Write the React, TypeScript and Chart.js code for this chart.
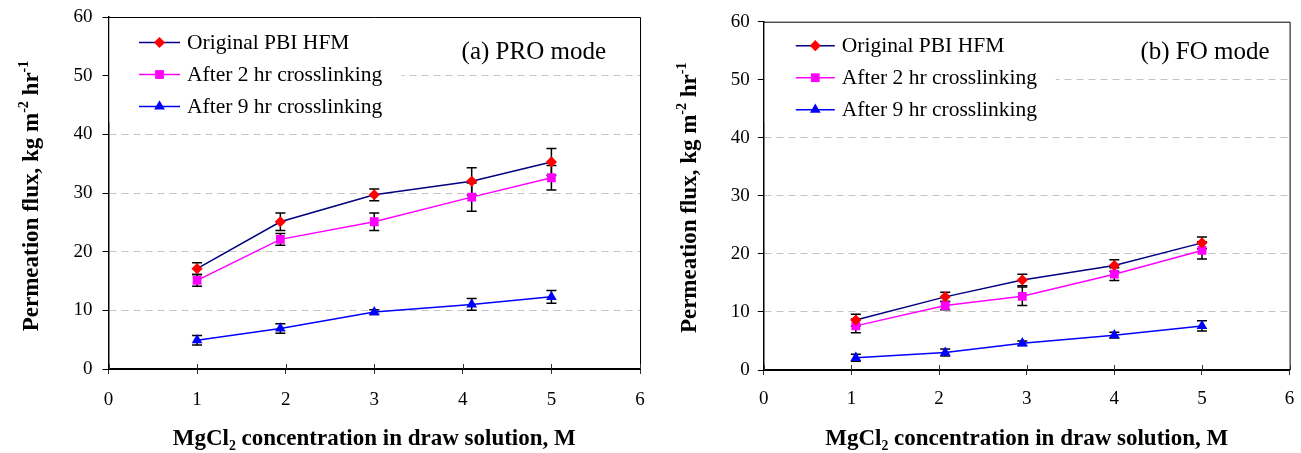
import React, { useEffect, useRef } from 'react';
import { Chart, registerables } from 'chart.js';

Chart.register(...registerables);

const FONT = "'Liberation Serif', 'Times New Roman', Times, serif";

// ---- shared series meta ----
const seriesLabels = ['Original PBI HFM', 'After 2 hr crosslinking', 'After 9 hr crosslinking'];
const lineColors = ['#000080', '#FF00FF', '#0000FF'];
const markerColors = ['#FF0000', '#FF00FF', '#0000FF'];
const markerStyles = ['rectRot', 'rect', 'triangle'];

const xTicks = [0, 1, 2, 3, 4, 5, 6];
const yTicks = [0, 10, 20, 30, 40, 50, 60];

const xTitle = 'MgCl\u2082 concentration in draw solution, M';
// y title pieces: [text, isSuperscript]
const yTitleParts: [string, boolean][] = [
  ['Permeation flux, kg m', false],
  ['-2', true],
  [' hr', false],
  ['-1', true],
];

// ---- (a) PRO mode ----
const proConc = [1, 1.94, 3, 4.1, 5];
const proOriginal = [17.1, 25.1, 29.7, 32.0, 35.3];
const proOriginalErr = [1.0, 1.5, 1.0, 2.3, 2.3];
const pro2hr = [15.1, 22.1, 25.1, 29.3, 32.6];
const pro2hrErr = [1.0, 1.0, 1.5, 2.4, 2.1];
const pro9hr = [4.9, 6.9, 9.7, 11.0, 12.3];
const pro9hrErr = [0.8, 0.8, 0.4, 1.0, 1.1];

// ---- (b) FO mode ----
const foConc = [1.05, 2.07, 2.95, 4.0, 5.0];
const foOriginal = [8.6, 12.6, 15.5, 18.0, 21.9];
const foOriginalErr = [1.0, 0.8, 1.0, 1.0, 1.0];
const fo2hr = [7.6, 11.1, 12.7, 16.5, 20.6];
const fo2hrErr = [1.2, 0.7, 1.6, 1.1, 1.5];
const fo9hr = [2.1, 3.0, 4.6, 6.0, 7.6];
const fo9hrErr = [0.6, 0.6, 0.4, 0.5, 0.9];

function drawMarker(ctx: CanvasRenderingContext2D, style: string, x: number, y: number, r: number) {
  ctx.beginPath();
  if (style === 'rectRot') {
    ctx.moveTo(x - r, y);
    ctx.lineTo(x, y - r);
    ctx.lineTo(x + r, y);
    ctx.lineTo(x, y + r);
  } else if (style === 'rect') {
    const s = Math.SQRT1_2 * r;
    ctx.rect(x - s, y - s, 2 * s, 2 * s);
  } else {
    let rad = 0;
    ctx.moveTo(x + Math.sin(rad) * r, y - Math.cos(rad) * r);
    rad += (2 * Math.PI) / 3;
    ctx.lineTo(x + Math.sin(rad) * r, y - Math.cos(rad) * r);
    rad += (2 * Math.PI) / 3;
    ctx.lineTo(x + Math.sin(rad) * r, y - Math.cos(rad) * r);
  }
  ctx.closePath();
  ctx.fill();
}

const errorBarPlugin = {
  id: 'errorBars',
  beforeDatasetsDraw(chart: any) {
    const { ctx } = chart;
    const xs = chart.scales.x;
    const ys = chart.scales.y;
    ctx.save();
    ctx.strokeStyle = '#000';
    ctx.lineWidth = 1.5;
    chart.data.datasets.forEach((ds: any) => {
      ds.data.forEach((p: any, i: number) => {
        const e = ds.errors[i];
        const px = xs.getPixelForValue(p.x);
        const yt = ys.getPixelForValue(p.y + e);
        const yb = ys.getPixelForValue(p.y - e);
        ctx.beginPath();
        ctx.moveTo(px, yt);
        ctx.lineTo(px, yb);
        ctx.moveTo(px - 5, yt);
        ctx.lineTo(px + 5, yt);
        ctx.moveTo(px - 5, yb);
        ctx.lineTo(px + 5, yb);
        ctx.stroke();
      });
    });
    ctx.restore();
  },
};

const boxLegendPlugin = {
  id: 'boxLegend',
  beforeDatasetsDraw(chart: any, _args: any, opts: any) {
    const { ctx, chartArea } = chart;
    ctx.save();
    // white legend background
    ctx.fillStyle = '#fff';
    ctx.fillRect(chartArea.left + 1, chartArea.top + 1, opts.boxWidth, opts.boxHeight);
    const x0 = chartArea.left + opts.lineStart;
    const x1 = x0 + opts.lineLength;
    ctx.font = `21.5px ${FONT}`;
    ctx.textBaseline = 'middle';
    ctx.textAlign = 'left';
    chart.data.datasets.forEach((ds: any, i: number) => {
      const y = chartArea.top + opts.rowStart + i * opts.rowGap;
      ctx.strokeStyle = ds.borderColor;
      ctx.lineWidth = 1.5;
      ctx.beginPath();
      ctx.moveTo(x0, y);
      ctx.lineTo(x1, y);
      ctx.stroke();
      ctx.fillStyle = ds.pointBackgroundColor;
      drawMarker(ctx, ds.pointStyle, (x0 + x1) / 2, y, ds.pointRadius);
      ctx.fillStyle = '#000';
      ctx.fillText(ds.label, x1 + 7, y + 1);
    });
    // panel annotation
    ctx.font = `25px ${FONT}`;
    ctx.textAlign = 'right';
    ctx.fillStyle = '#000';
    ctx.fillText(opts.note, chartArea.right - opts.noteRight, chartArea.top + opts.noteTop);
    ctx.restore();
  },
  afterDraw(chart: any, _args: any, opts: any) {
    const { ctx, chartArea } = chart;
    ctx.save();
    // top and right frame
    ctx.strokeStyle = '#000';
    ctx.lineWidth = 1;
    ctx.beginPath();
    ctx.moveTo(chartArea.left, chartArea.top + 0.5);
    ctx.lineTo(chartArea.right + 0.5, chartArea.top + 0.5);
    ctx.lineTo(chartArea.right + 0.5, chartArea.bottom);
    ctx.stroke();
    // inward halves of the crossing x tick marks
    ctx.strokeStyle = '#333';
    ctx.beginPath();
    chart.scales.x.ticks.forEach((t: any) => {
      const px = Math.round(chart.scales.x.getPixelForValue(t.value)) + 0.5;
      ctx.moveTo(px, chartArea.bottom);
      ctx.lineTo(px, chartArea.bottom - 5);
    });
    ctx.stroke();
    // y axis title with superscripts
    const big = `bold 23px ${FONT}`;
    const small = `bold 14px ${FONT}`;
    let total = 0;
    yTitleParts.forEach(([t, sup]) => {
      ctx.font = sup ? small : big;
      total += ctx.measureText(t).width;
    });
    ctx.translate(opts.yTitleX, (chartArea.top + chartArea.bottom) / 2 + opts.yTitleShift);
    ctx.rotate(-Math.PI / 2);
    ctx.fillStyle = '#000';
    ctx.textAlign = 'left';
    ctx.textBaseline = 'alphabetic';
    let cx = -total / 2;
    yTitleParts.forEach(([t, sup]) => {
      ctx.font = sup ? small : big;
      ctx.fillText(t, cx, sup ? 8 - 10 : 8);
      cx += ctx.measureText(t).width;
    });
    ctx.restore();
  },
};

type Panel = {
  conc: number[];
  values: number[][];
  errors: number[][];
  note: string;
  width: number;
  area: { left: number; top: number; right: number; bottom: number };
  yTickPad: number;
  xTickPad: number;
  legend: any;
};

function ChartPanel({ p }: { p: Panel }) {
  const ref = useRef<HTMLCanvasElement | null>(null);
  useEffect(() => {
    if (!ref.current) return;
    const H = 453;
    const datasets = seriesLabels.map((label, s) => ({
      label,
      data: p.conc.map((x, i) => ({ x, y: p.values[s][i] })),
      errors: p.errors[s],
      borderColor: lineColors[s],
      backgroundColor: markerColors[s],
      pointBackgroundColor: markerColors[s],
      pointBorderColor: markerColors[s],
      pointBorderWidth: 0,
      pointStyle: markerStyles[s],
      pointRadius: s === 0 ? 5.6 : 6.2,
      borderWidth: 1.5,
      fill: false,
      tension: 0,
    }));
    const chart = new Chart(ref.current, {
      type: 'line',
      data: { datasets: datasets as any },
      options: {
        animation: false,
        responsive: false,
        maintainAspectRatio: false,
        devicePixelRatio: 1,
        layout: {
          padding: { left: 0, top: p.area.top, right: p.width - p.area.right, bottom: 0 },
        },
        plugins: {
          legend: { display: false },
          tooltip: { enabled: false },
          boxLegend: { ...p.legend, note: p.note },
        } as any,
        scales: {
          x: {
            type: 'linear',
            min: xTicks[0],
            max: xTicks[xTicks.length - 1],
            afterBuildTicks: (sc: any) => {
              sc.ticks = xTicks.map((v) => ({ value: v }));
            },
            afterFit: (sc: any) => {
              sc.height = H - p.area.bottom;
              sc.paddingLeft = 0;
              sc.paddingRight = 0;
            },
            ticks: {
              stepSize: 1,
              maxRotation: 0,
              autoSkip: false,
              padding: p.xTickPad,
              color: '#000',
              font: { family: FONT, size: 19 },
            },
            grid: {
              drawOnChartArea: false,
              drawTicks: true,
              tickLength: 5,
              tickColor: '#333',
              tickWidth: 1,
            },
            border: { display: true, color: '#000', width: 2 },
            title: {
              display: true,
              text: xTitle,
              color: '#000',
              font: { family: FONT, size: 23, weight: 'bold' },
              padding: { top: 0, bottom: 0 },
            },
          },
          y: {
            type: 'linear',
            min: yTicks[0],
            max: yTicks[yTicks.length - 1],
            afterBuildTicks: (sc: any) => {
              sc.ticks = yTicks.map((v) => ({ value: v }));
            },
            afterFit: (sc: any) => {
              sc.width = p.area.left;
              sc.paddingTop = 0;
              sc.paddingBottom = 0;
            },
            ticks: {
              stepSize: 10,
              padding: p.yTickPad,
              color: '#000',
              font: { family: FONT, size: 19 },
            },
            grid: {
              color: (c: any) =>
                c.tick && (c.tick.value === yTicks[0] || c.tick.value === yTicks[yTicks.length - 1])
                  ? 'rgba(0,0,0,0)'
                  : '#c4c4c4',
              lineWidth: 1,
              drawTicks: true,
              tickLength: 6,
              tickColor: '#000',
              tickWidth: 1,
              tickBorderDash: [],
            } as any,
            border: { display: true, color: '#000', width: 1.5, dash: [7, 5] },
            title: { display: false },
          },
        },
      } as any,
      plugins: [errorBarPlugin as any, boxLegendPlugin as any],
    });
    return () => chart.destroy();
  }, [p]);
  return <canvas ref={ref} width={p.width} height={453} style={{ display: 'block', width: p.width, height: 453 }} />;
}

const proPanel: Panel = {
  conc: proConc,
  values: [proOriginal, pro2hr, pro9hr],
  errors: [proOriginalErr, pro2hrErr, pro9hrErr],
  note: '(a) PRO mode',
  width: 650,
  area: { left: 108.5, top: 17, right: 640, bottom: 369 },
  yTickPad: 10,
  xTickPad: 14.6,
  legend: {
    boxWidth: 292, boxHeight: 104, lineStart: 30.5, lineLength: 41, rowStart: 25.5, rowGap: 32,
    noteRight: 34, noteTop: 35, yTitleX: 30, yTitleShift: 3,
  },
};

const foPanel: Panel = {
  conc: foConc,
  values: [foOriginal, fo2hr, fo9hr],
  errors: [foOriginalErr, fo2hrErr, fo9hrErr],
  note: '(b) FO mode',
  width: 651,
  area: { left: 113.8, top: 21.7, right: 639.6, bottom: 370 },
  yTickPad: 8,
  xTickPad: 12.6,
  legend: {
    boxWidth: 291, boxHeight: 100, lineStart: 32, lineLength: 39, rowStart: 24, rowGap: 32,
    noteRight: 20, noteTop: 31, yTitleX: 37.5, yTitleShift: 2,
  },
};

export default function App() {
  return (
    <div style={{ position: 'absolute', left: 0, top: 0, width: 1301, height: 453, background: '#fff', display: 'flex' }}>
      <ChartPanel p={proPanel} />
      <ChartPanel p={foPanel} />
    </div>
  );
}
